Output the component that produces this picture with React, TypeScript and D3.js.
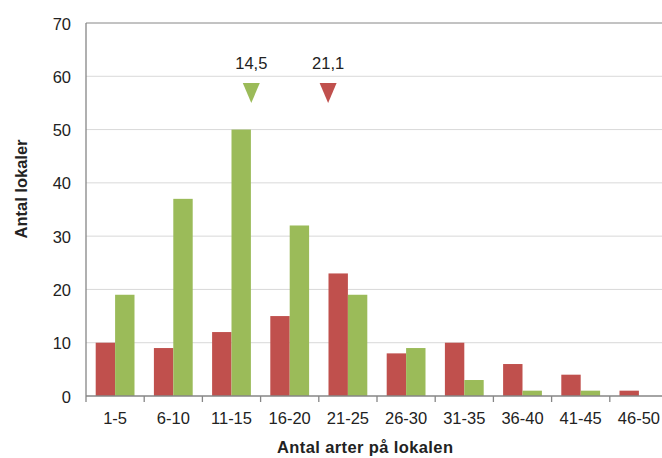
import React from "react";
import * as d3 from "d3";

const categories = ["1-5", "6-10", "11-15", "16-20", "21-25", "26-30", "31-35", "36-40", "41-45", "46-50"];
const redValues = [10, 9, 12, 15, 23, 8, 10, 6, 4, 1];
const greenValues = [19, 37, 50, 32, 19, 9, 3, 1, 1, 0];
const yTicks = [0, 10, 20, 30, 40, 50, 60, 70];
const markers = [
  { label: "14,5", value: 14.5, color: "#9BBB59" },
  { label: "21,1", value: 21.1, color: "#C0504D" },
];

const W = 662, H = 458;
const left = 86, right = 668, top = 23, bottom = 396;
const RED = "#C0504D", GREEN = "#9BBB59";
const FONT = "'Liberation Sans', Arial, sans-serif";

export default function App() {
  const x = d3.scaleBand<string>().domain(categories).range([left, right]).paddingInner(0).paddingOuter(0);
  const inner = d3.scaleBand<string>().domain(["r", "g"]).range([0, x.bandwidth()]).paddingInner(0).paddingOuter(0.5);
  const y = d3.scaleLinear().domain([0, 70]).range([bottom, top]);
  const xv = d3.scaleLinear().domain([0.3, 50.3]).range([left, right]);
  const boundaries = categories.map((c) => x(c)!).concat([right]);

  return (
    <svg width={W} height={H} style={{ position: "absolute", left: 0, top: 0 }} fontFamily={FONT}>
      <rect width={W} height={H} fill="#fff" />
      {yTicks.filter((t) => t > 0 && t < 70).map((t) => (
        <line key={t} x1={left} x2={right} y1={y(t)} y2={y(t)} stroke="#D9D9D9" strokeWidth={1} />
      ))}
      <line x1={left} x2={right} y1={y(70)} y2={y(70)} stroke="#868686" strokeWidth={1} />
      {categories.map((c, i) => (
        <g key={c}>
          <rect x={x(c)! + inner("r")!} y={y(redValues[i])} width={inner.bandwidth()} height={bottom - y(redValues[i])} fill={RED} />
          <rect x={x(c)! + inner("g")!} y={y(greenValues[i])} width={inner.bandwidth()} height={bottom - y(greenValues[i])} fill={GREEN} />
        </g>
      ))}
      <line x1={left} x2={left} y1={top} y2={bottom} stroke="#868686" strokeWidth={1.3} />
      <line x1={left} x2={right} y1={bottom} y2={bottom} stroke="#868686" strokeWidth={1.3} />
      {boundaries.map((b, i) => (
        <line key={i} x1={b} x2={b} y1={bottom} y2={bottom + 6} stroke="#868686" strokeWidth={1.3} />
      ))}
      {yTicks.map((t) => (
        <text key={t} x={71} y={y(t) + 6.5} textAnchor="end" fontSize={16.5} fill="#222">{t}</text>
      ))}
      {categories.map((c) => (
        <text key={c} x={x(c)! + x.bandwidth() / 2} y={424} textAnchor="middle" fontSize={16.5} fill="#222">{c}</text>
      ))}
      {markers.map((m) => {
        const cx = xv(m.value);
        return (
          <g key={m.label}>
            <text x={cx} y={69} textAnchor="middle" fontSize={16.5} fill="#222">{m.label}</text>
            <path d={`M${cx - 8.5},83 L${cx + 8.5},83 L${cx},103 Z`} fill={m.color} />
          </g>
        );
      })}
      <text x={365} y={453} textAnchor="middle" fontSize={16.5} fontWeight="bold" fill="#222" textLength={176}>Antal arter på lokalen</text>
      <text transform={`translate(27,189) rotate(-90)`} textAnchor="middle" fontSize={16.5} fontWeight="bold" fill="#222">Antal lokaler</text>
    </svg>
  );
}
